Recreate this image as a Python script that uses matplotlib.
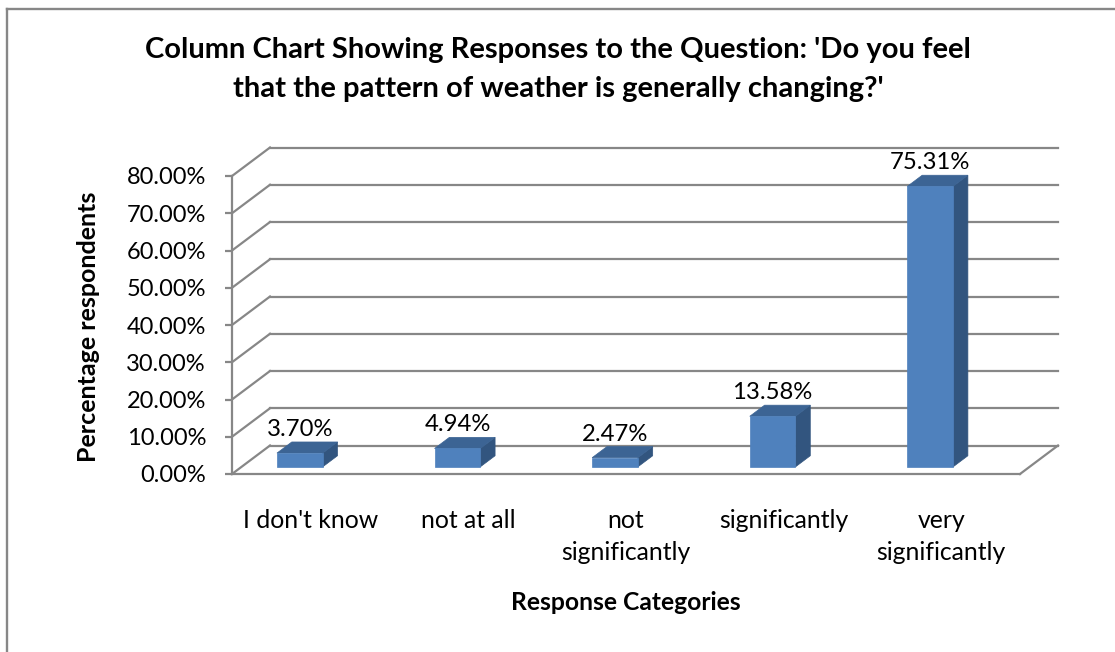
import matplotlib
matplotlib.use("Agg")
import matplotlib.pyplot as plt
from matplotlib.patches import Polygon
from matplotlib.lines import Line2D

# ---------------- data ----------------
categories = ["I don't know", "not at all", "not\nsignificantly", "significantly", "very\nsignificantly"]
values = [3.70, 4.94, 2.47, 13.58, 75.31]
y_ticks = [0, 10, 20, 30, 40, 50, 60, 70, 80]
y_tick_labels = [f"{t:.2f}%" for t in y_ticks]
title_lines = ["Column Chart Showing Responses to the Question: 'Do you feel",
               "that the pattern of weather is generally changing?'"]
x_title = "Response Categories"
y_title = "Percentage respondents"

# ---------------- style ----------------
FONT = "Lato"
GRID = "#878787"
FRONT = "#4F81BD"
TOP = "#3C6494"
SIDE = "#32557F"

W, H = 1115, 652
fig = plt.figure(figsize=(W / 100, H / 100), dpi=100)
fig.patch.set_facecolor("white")


def fpx(x, y):
    return (x / W, 1 - y / H)


# front plane of the plot in pixels
L, R, T, B = 232, 1020, 176, 474
ax = fig.add_axes([L / W, 1 - B / H, (R - L) / W, (B - T) / H])
n = len(categories)
ax.set_xlim(0, n)
ax.set_ylim(0, y_ticks[-1])
ax.set_facecolor("none")

# depth offsets (in data units)
DXu = 38 / ((R - L) / n)
DYu = 28.5 / ((B - T) / y_ticks[-1])


def proj(x, y, d):
    return (x + d * DXu, y + d * DYu)


lw = 1.6
# back wall gridlines and side-wall diagonals
for t in y_ticks:
    p0, p1 = proj(0, t, 1), proj(n, t, 1)
    ax.add_line(Line2D([p0[0], p1[0]], [p0[1], p1[1]], color=GRID, lw=lw, clip_on=False, zorder=1))
    q0, q1 = proj(0, t, 0), proj(0, t, 1)
    ax.add_line(Line2D([q0[0], q1[0]], [q0[1], q1[1]], color=GRID, lw=lw, clip_on=False, zorder=1))
# floor right edge
f0, f1 = proj(n, 0, 0), proj(n, 0, 1)
ax.add_line(Line2D([f0[0], f1[0]], [f0[1], f1[1]], color=GRID, lw=lw, clip_on=False, zorder=1))

# bars
BAR_X0, BAR_W, D0, D1 = 0.225, 0.29, 0.25, 0.64
for i, v in enumerate(values):
    x0 = i + BAR_X0
    x1 = x0 + BAR_W
    front = [proj(x0, 0, D0), proj(x1, 0, D0), proj(x1, v, D0), proj(x0, v, D0)]
    top = [proj(x0, v, D0), proj(x1, v, D0), proj(x1, v, D1), proj(x0, v, D1)]
    side = [proj(x1, 0, D0), proj(x1, 0, D1), proj(x1, v, D1), proj(x1, v, D0)]
    for poly, col in ((side, SIDE), (top, TOP), (front, FRONT)):
        ax.add_patch(Polygon(poly, closed=True, facecolor=col, edgecolor=col, lw=0.5,
                             clip_on=False, zorder=3))
    cx = (x0 + x1) / 2 + D0 * DXu
    ax.annotate(f"{v:.2f}%", xy=(cx, v + D1 * DYu), xytext=(0, 6), textcoords="offset pixels",
                ha="center", va="baseline", fontsize=17.2, family=FONT, color="black",
                annotation_clip=False, zorder=4)

# axes spines
for s in ("top", "right"):
    ax.spines[s].set_visible(False)
for s in ("left", "bottom"):
    ax.spines[s].set_color(GRID)
    ax.spines[s].set_linewidth(lw)
    ax.spines[s].set_zorder(2)

ax.set_yticks(y_ticks, y_tick_labels)
ax.tick_params(axis="y", length=5, width=lw, color=GRID, pad=13.7, labelsize=17)
ax.set_xticks([i + 0.5 for i in range(n)], categories)
ax.tick_params(axis="x", length=0, pad=25.5, labelsize=17.8)
for lab in ax.get_yticklabels():
    lab.set_family(FONT)
for lab in ax.get_xticklabels():
    lab.set_family(FONT)
    lab.set_linespacing(1.45)

# titles
fig.text(*fpx(558, 58), title_lines[0], ha="center", va="baseline", fontsize=21,
         fontweight="bold", family=FONT)
fig.text(*fpx(558, 97), title_lines[1], ha="center", va="baseline", fontsize=21,
         fontweight="bold", family=FONT)
fig.text(*fpx(626, 610), x_title, ha="center", va="baseline", fontsize=17.7,
         fontweight="bold", family=FONT)
fig.text(*fpx(89, 327), y_title, ha="center", va="center", rotation=90, fontsize=18,
         fontweight="bold", family=FONT)

# outer border (top and left visible)
bx0, by0 = fpx(7, 9)
fig.add_artist(Line2D([bx0, 1.0], [by0, by0], transform=fig.transFigure, color=GRID, lw=1.7))
fig.add_artist(Line2D([bx0, bx0], [0.0, by0], transform=fig.transFigure, color=GRID, lw=1.7))

fig.savefig("out.png", dpi=100)
